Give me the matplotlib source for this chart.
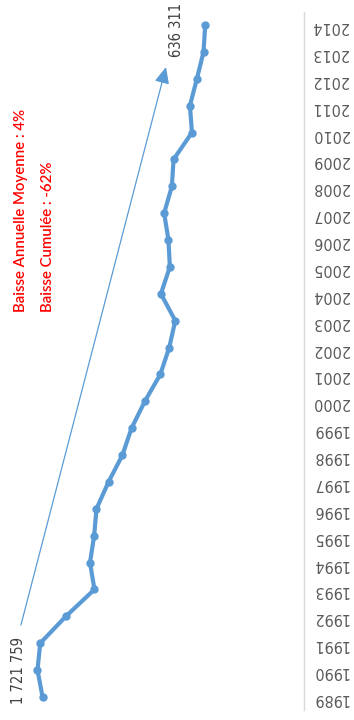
import matplotlib
matplotlib.use("Agg")
import matplotlib.pyplot as plt
from matplotlib import font_manager as fm

years = list(range(1989, 2015))
values = [1689000, 1721759, 1704000, 1538000, 1353000, 1382000, 1355000, 1340000,
          1262000, 1172000, 1113000, 1027000, 927000, 869000, 830000, 923000,
          865000, 874000, 902000, 852000, 841000, 722000, 735000, 690000,
          647000, 636311]
label_first = "1 721 759"
label_last = "636 311"
note_lines = ["Baisse Annuelle Moyenne : 4%", "Baisse Cumulée : -62%"]

cond = fm.FontProperties(family="DejaVu Sans", stretch="condensed")
lato = fm.FontProperties(family="Lato", weight="semibold")

W, H = 354, 720
fig = plt.figure(figsize=(W / 100, H / 100), dpi=100)
ax = fig.add_axes([0, (720 - 710.4) / 720, 303.5 / W, 698.8 / 720])

ax.plot(values, years, color="#5b9bd5", lw=3.0, marker="o", ms=5,
        solid_capstyle="round", solid_joinstyle="round", zorder=3)

ax.set_xlim(303.5 * 6472.6, 0)
ax.set_ylim(1988.5, 2014.5)

for s in ["top", "left", "bottom"]:
    ax.spines[s].set_visible(False)
ax.spines["right"].set_color("#d9d9d9")
ax.spines["right"].set_linewidth(1.0)
ax.set_xticks([])
ax.yaxis.tick_right()
ax.set_yticks(years)
ax.set_yticklabels([str(y) for y in years], rotation=180, color="#595959",
                   fontproperties=cond, fontsize=11.5)
ax.tick_params(axis="y", length=0, pad=6)

i_first = values.index(max(values))
ax.annotate(label_first, (values[i_first], years[i_first]), xytext=(-19, 0),
            textcoords="offset pixels", rotation=90, ha="center", va="center",
            fontproperties=cond, fontsize=10.5, color="#404040")
ax.annotate(label_last, (values[-1], years[-1]), xytext=(-29, -5),
            textcoords="offset pixels", rotation=90, ha="center", va="center",
            fontproperties=cond, fontsize=10.5, color="#404040")

ax.annotate("", xy=(0.547, 0.9207), xytext=(0.069, 0.1222),
            xycoords="axes fraction", textcoords="axes fraction",
            arrowprops=dict(arrowstyle="-|>,head_length=1.0,head_width=0.45",
                            color="#5b9bd5", lw=0.9, shrinkA=0, shrinkB=0))

for i, line in enumerate(note_lines):
    ax.text((21 + 27 * i) / 303.5, (710.4 - 312) / 698.8, line,
            transform=ax.transAxes, rotation=90, ha="center", va="bottom",
            color="#ff0000", fontproperties=lato, fontsize=10.8)

fig.savefig("out.png", dpi=100)
